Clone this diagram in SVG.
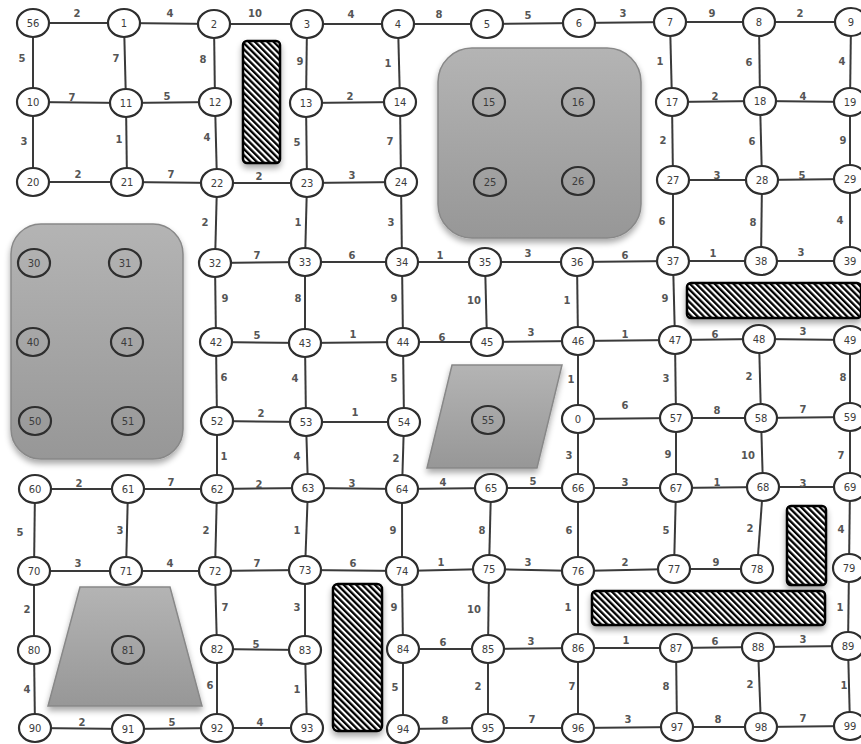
<svg xmlns="http://www.w3.org/2000/svg" width="861" height="744" viewBox="0 0 861 744">
<defs>
<pattern id="hatch" width="4.4" height="4.4" patternUnits="userSpaceOnUse" patternTransform="rotate(-45)">
<rect width="4.4" height="4.4" fill="#fff"/>
<rect width="2.3" height="4.4" fill="#000"/>
</pattern>
<linearGradient id="gray" x1="0" y1="0" x2="0" y2="1">
<stop offset="0" stop-color="#b4b4b4"/>
<stop offset="1" stop-color="#979797"/>
</linearGradient>
<filter id="shadow" x="-20%" y="-20%" width="140%" height="150%">
<feGaussianBlur in="SourceAlpha" stdDeviation="3"/>
<feOffset dx="0" dy="4" result="b"/>
<feComponentTransfer><feFuncA type="linear" slope="0.35"/></feComponentTransfer>
<feMerge><feMergeNode/><feMergeNode in="SourceGraphic"/></feMerge>
</filter>
</defs>
<style>
.e line{stroke:#3a3a3a;stroke-width:2}
.n ellipse{fill:#fff;stroke:#2e2e2e;stroke-width:2.2}
.g ellipse{fill:none;stroke:#2e2e2e;stroke-width:2.2}
text{font-family:"DejaVu Sans","Liberation Sans",sans-serif;font-size:10px;fill:#3c3c3c;text-anchor:middle}
.w text{font-size:10px;font-weight:bold;fill:#555}
.area{fill:url(#gray);stroke:#888;stroke-width:1.5;filter:url(#shadow)}
.hatch{fill:url(#hatch);stroke:#000;stroke-width:2.5;filter:url(#shadow)}
</style>
<rect width="861" height="744" fill="#fff"/>
<g id="obstacles">
<rect class="area" x="438" y="48" width="203" height="190" rx="34"/>
<rect class="area" x="11" y="224" width="172" height="235" rx="30"/>
<polygon class="area" points="452,365 562,365 537,468 427,468"/>
<polygon class="area" points="80,587 170,587 202,706 48,706"/>
<rect class="hatch" x="243" y="41" width="37" height="122" rx="4"/>
<rect class="hatch" x="687" y="283" width="174" height="35" rx="4"/>
<rect class="hatch" x="787" y="506" width="39" height="79" rx="4"/>
<rect class="hatch" x="592" y="591" width="233" height="34" rx="4"/>
<rect class="hatch" x="333" y="584" width="49" height="147" rx="5"/>
</g>
<g id="connectors" class="e">
<line x1="33" y1="23" x2="124" y2="23"/><line x1="124" y1="23" x2="214" y2="24"/><line x1="214" y1="24" x2="307" y2="24"/><line x1="307" y1="24" x2="398" y2="24"/><line x1="398" y1="24" x2="487" y2="24"/><line x1="487" y1="24" x2="579" y2="23"/><line x1="579" y1="23" x2="670" y2="22"/><line x1="670" y1="22" x2="759" y2="22"/><line x1="759" y1="22" x2="851" y2="22"/>
<line x1="33" y1="23" x2="33" y2="102"/><line x1="124" y1="23" x2="126" y2="103"/><line x1="214" y1="24" x2="215" y2="102"/><line x1="307" y1="24" x2="306" y2="103"/><line x1="398" y1="24" x2="400" y2="102"/><line x1="670" y1="22" x2="672" y2="102"/><line x1="759" y1="22" x2="760" y2="101"/><line x1="851" y1="22" x2="850" y2="102"/>
<line x1="33" y1="102" x2="126" y2="103"/><line x1="126" y1="103" x2="215" y2="102"/><line x1="306" y1="103" x2="400" y2="102"/><line x1="672" y1="102" x2="760" y2="101"/><line x1="760" y1="101" x2="850" y2="102"/>
<line x1="33" y1="102" x2="33" y2="182"/><line x1="126" y1="103" x2="127" y2="182"/><line x1="215" y1="102" x2="217" y2="183"/><line x1="306" y1="103" x2="307" y2="183"/><line x1="400" y1="102" x2="401" y2="182"/><line x1="672" y1="102" x2="673" y2="180"/><line x1="760" y1="101" x2="762" y2="180"/><line x1="850" y1="102" x2="850" y2="179"/>
<line x1="33" y1="182" x2="127" y2="182"/><line x1="127" y1="182" x2="217" y2="183"/><line x1="217" y1="183" x2="307" y2="183"/><line x1="307" y1="183" x2="401" y2="182"/><line x1="673" y1="180" x2="762" y2="180"/><line x1="762" y1="180" x2="850" y2="179"/>
<line x1="217" y1="183" x2="215" y2="263"/><line x1="307" y1="183" x2="305" y2="262"/><line x1="401" y1="182" x2="402" y2="262"/><line x1="673" y1="180" x2="673" y2="261"/><line x1="762" y1="180" x2="761" y2="261"/><line x1="850" y1="179" x2="850" y2="261"/>
<line x1="215" y1="263" x2="305" y2="262"/><line x1="305" y1="262" x2="402" y2="262"/><line x1="402" y1="262" x2="485" y2="262"/><line x1="485" y1="262" x2="577" y2="262"/><line x1="577" y1="262" x2="673" y2="261"/><line x1="673" y1="261" x2="761" y2="261"/><line x1="761" y1="261" x2="850" y2="261"/>
<line x1="215" y1="263" x2="216" y2="342"/><line x1="305" y1="262" x2="305" y2="343"/><line x1="402" y1="262" x2="403" y2="342"/><line x1="485" y1="262" x2="487" y2="342"/><line x1="577" y1="262" x2="578" y2="341"/><line x1="673" y1="261" x2="675" y2="340"/>
<line x1="216" y1="342" x2="305" y2="343"/><line x1="305" y1="343" x2="403" y2="342"/><line x1="403" y1="342" x2="487" y2="342"/><line x1="487" y1="342" x2="578" y2="341"/><line x1="578" y1="341" x2="675" y2="340"/><line x1="675" y1="340" x2="759" y2="339"/><line x1="759" y1="339" x2="850" y2="340"/>
<line x1="216" y1="342" x2="217" y2="421"/><line x1="305" y1="343" x2="306" y2="422"/><line x1="403" y1="342" x2="404" y2="422"/><line x1="578" y1="341" x2="578" y2="419"/><line x1="675" y1="340" x2="676" y2="418"/><line x1="759" y1="339" x2="761" y2="418"/><line x1="850" y1="340" x2="850" y2="417"/>
<line x1="217" y1="421" x2="306" y2="422"/><line x1="306" y1="422" x2="404" y2="422"/><line x1="578" y1="419" x2="676" y2="418"/><line x1="676" y1="418" x2="761" y2="418"/><line x1="761" y1="418" x2="850" y2="417"/>
<line x1="217" y1="421" x2="217" y2="489"/><line x1="306" y1="422" x2="308" y2="488"/><line x1="404" y1="422" x2="402" y2="489"/><line x1="578" y1="419" x2="578" y2="488"/><line x1="676" y1="418" x2="676" y2="488"/><line x1="761" y1="418" x2="763" y2="487"/><line x1="850" y1="417" x2="850" y2="487"/>
<line x1="35" y1="489" x2="128" y2="489"/><line x1="128" y1="489" x2="217" y2="489"/><line x1="217" y1="489" x2="308" y2="488"/><line x1="308" y1="488" x2="402" y2="489"/><line x1="402" y1="489" x2="491" y2="488"/><line x1="491" y1="488" x2="578" y2="488"/><line x1="578" y1="488" x2="676" y2="488"/><line x1="676" y1="488" x2="763" y2="487"/><line x1="763" y1="487" x2="850" y2="487"/>
<line x1="35" y1="489" x2="34" y2="571"/><line x1="128" y1="489" x2="126" y2="571"/><line x1="217" y1="489" x2="215" y2="571"/><line x1="308" y1="488" x2="305" y2="570"/><line x1="402" y1="489" x2="402" y2="571"/><line x1="491" y1="488" x2="489" y2="569"/><line x1="578" y1="488" x2="578" y2="571"/><line x1="676" y1="488" x2="674" y2="569"/><line x1="763" y1="487" x2="757" y2="569"/><line x1="850" y1="487" x2="849" y2="568"/>
<line x1="34" y1="571" x2="126" y2="571"/><line x1="126" y1="571" x2="215" y2="571"/><line x1="215" y1="571" x2="305" y2="570"/><line x1="305" y1="570" x2="402" y2="571"/><line x1="402" y1="571" x2="489" y2="569"/><line x1="489" y1="569" x2="578" y2="571"/><line x1="578" y1="571" x2="674" y2="569"/><line x1="674" y1="569" x2="757" y2="569"/>
<line x1="34" y1="571" x2="34" y2="650"/><line x1="215" y1="571" x2="217" y2="649"/><line x1="305" y1="570" x2="305" y2="650"/><line x1="402" y1="571" x2="403" y2="649"/><line x1="489" y1="569" x2="488" y2="649"/><line x1="578" y1="571" x2="578" y2="648"/><line x1="849" y1="568" x2="848" y2="646"/>
<line x1="217" y1="649" x2="305" y2="650"/><line x1="403" y1="649" x2="488" y2="649"/><line x1="488" y1="649" x2="578" y2="648"/><line x1="578" y1="648" x2="676" y2="648"/><line x1="676" y1="648" x2="758" y2="647"/><line x1="758" y1="647" x2="848" y2="646"/>
<line x1="34" y1="650" x2="35" y2="728"/><line x1="217" y1="649" x2="217" y2="728"/><line x1="305" y1="650" x2="307" y2="728"/><line x1="403" y1="649" x2="403" y2="729"/><line x1="488" y1="649" x2="488" y2="728"/><line x1="578" y1="648" x2="578" y2="728"/><line x1="676" y1="648" x2="677" y2="727"/><line x1="758" y1="647" x2="761" y2="727"/><line x1="848" y1="646" x2="850" y2="726"/>
<line x1="35" y1="728" x2="128" y2="729"/><line x1="128" y1="729" x2="217" y2="728"/><line x1="217" y1="728" x2="307" y2="728"/><line x1="403" y1="729" x2="488" y2="728"/><line x1="488" y1="728" x2="578" y2="728"/><line x1="578" y1="728" x2="677" y2="727"/><line x1="677" y1="727" x2="761" y2="727"/><line x1="761" y1="727" x2="850" y2="726"/>
</g>
<g id="weights" class="w">
<text x="77" y="13" dy=".35em">2</text><text x="170" y="13" dy=".35em">4</text><text x="255" y="13" dy=".35em">10</text><text x="351" y="14" dy=".35em">4</text><text x="439" y="14" dy=".35em">8</text><text x="528" y="15" dy=".35em">5</text><text x="623" y="13" dy=".35em">3</text><text x="712" y="13" dy=".35em">9</text><text x="800" y="13" dy=".35em">2</text>
<text x="22" y="58" dy=".35em">5</text><text x="116" y="58" dy=".35em">7</text><text x="203" y="59" dy=".35em">8</text><text x="300" y="61" dy=".35em">9</text><text x="388" y="63" dy=".35em">1</text><text x="660" y="61" dy=".35em">1</text><text x="749" y="62" dy=".35em">6</text><text x="842" y="61" dy=".35em">4</text>
<text x="72" y="97" dy=".35em">7</text><text x="167" y="96" dy=".35em">5</text><text x="350" y="96" dy=".35em">2</text><text x="715" y="96" dy=".35em">2</text><text x="803" y="96" dy=".35em">4</text>
<text x="24" y="141" dy=".35em">3</text><text x="119" y="139" dy=".35em">1</text><text x="207" y="137" dy=".35em">4</text><text x="297" y="142" dy=".35em">5</text><text x="390" y="141" dy=".35em">7</text><text x="663" y="140" dy=".35em">2</text><text x="752" y="141" dy=".35em">6</text><text x="843" y="140" dy=".35em">9</text>
<text x="78" y="174" dy=".35em">2</text><text x="171" y="174" dy=".35em">7</text><text x="259" y="176" dy=".35em">2</text><text x="352" y="175" dy=".35em">3</text><text x="717" y="175" dy=".35em">3</text><text x="802" y="175" dy=".35em">5</text>
<text x="205" y="222" dy=".35em">2</text><text x="298" y="222" dy=".35em">1</text><text x="391" y="222" dy=".35em">3</text><text x="662" y="221" dy=".35em">6</text><text x="753" y="222" dy=".35em">8</text><text x="840" y="220" dy=".35em">4</text>
<text x="257" y="255" dy=".35em">7</text><text x="352" y="255" dy=".35em">6</text><text x="440" y="255" dy=".35em">1</text><text x="528" y="253" dy=".35em">3</text><text x="625" y="255" dy=".35em">6</text><text x="713" y="253" dy=".35em">1</text><text x="801" y="252" dy=".35em">3</text>
<text x="225" y="298" dy=".35em">9</text><text x="298" y="298" dy=".35em">8</text><text x="394" y="298" dy=".35em">9</text><text x="474" y="300" dy=".35em">10</text><text x="567" y="300" dy=".35em">1</text><text x="665" y="298" dy=".35em">9</text>
<text x="257" y="335" dy=".35em">5</text><text x="353" y="334" dy=".35em">1</text><text x="442" y="337" dy=".35em">6</text><text x="531" y="332" dy=".35em">3</text><text x="625" y="334" dy=".35em">1</text><text x="715" y="334" dy=".35em">6</text><text x="803" y="331" dy=".35em">3</text>
<text x="224" y="377" dy=".35em">6</text><text x="295" y="378" dy=".35em">4</text><text x="394" y="378" dy=".35em">5</text><text x="571" y="379" dy=".35em">1</text><text x="666" y="378" dy=".35em">3</text><text x="749" y="376" dy=".35em">2</text><text x="843" y="377" dy=".35em">8</text>
<text x="261" y="413" dy=".35em">2</text><text x="355" y="412" dy=".35em">1</text><text x="625" y="405" dy=".35em">6</text><text x="717" y="410" dy=".35em">8</text><text x="803" y="409" dy=".35em">7</text>
<text x="224" y="456" dy=".35em">1</text><text x="297" y="456" dy=".35em">4</text><text x="396" y="458" dy=".35em">2</text><text x="569" y="455" dy=".35em">3</text><text x="668" y="454" dy=".35em">9</text><text x="748" y="455" dy=".35em">10</text><text x="841" y="455" dy=".35em">7</text>
<text x="79" y="483" dy=".35em">2</text><text x="171" y="482" dy=".35em">7</text><text x="259" y="484" dy=".35em">2</text><text x="352" y="483" dy=".35em">3</text><text x="443" y="482" dy=".35em">4</text><text x="533" y="481" dy=".35em">5</text><text x="625" y="482" dy=".35em">3</text><text x="717" y="482" dy=".35em">1</text><text x="803" y="483" dy=".35em">3</text>
<text x="20" y="532" dy=".35em">5</text><text x="120" y="530" dy=".35em">3</text><text x="206" y="530" dy=".35em">2</text><text x="297" y="530" dy=".35em">1</text><text x="393" y="530" dy=".35em">9</text><text x="482" y="530" dy=".35em">8</text><text x="569" y="530" dy=".35em">6</text><text x="666" y="530" dy=".35em">5</text><text x="750" y="528" dy=".35em">2</text><text x="841" y="529" dy=".35em">4</text>
<text x="78" y="563" dy=".35em">3</text><text x="170" y="563" dy=".35em">4</text><text x="257" y="563" dy=".35em">7</text><text x="353" y="563" dy=".35em">6</text><text x="441" y="562" dy=".35em">1</text><text x="528" y="562" dy=".35em">3</text><text x="625" y="562" dy=".35em">2</text><text x="716" y="562" dy=".35em">9</text>
<text x="27" y="609" dy=".35em">2</text><text x="225" y="607" dy=".35em">7</text><text x="297" y="607" dy=".35em">3</text><text x="394" y="607" dy=".35em">9</text><text x="474" y="609" dy=".35em">10</text><text x="568" y="607" dy=".35em">1</text><text x="840" y="607" dy=".35em">1</text>
<text x="256" y="644" dy=".35em">5</text><text x="443" y="642" dy=".35em">6</text><text x="531" y="641" dy=".35em">3</text><text x="626" y="640" dy=".35em">1</text><text x="715" y="641" dy=".35em">6</text><text x="803" y="639" dy=".35em">3</text>
<text x="27" y="689" dy=".35em">4</text><text x="210" y="685" dy=".35em">6</text><text x="297" y="689" dy=".35em">1</text><text x="395" y="687" dy=".35em">5</text><text x="478" y="686" dy=".35em">2</text><text x="572" y="686" dy=".35em">7</text><text x="666" y="686" dy=".35em">8</text><text x="750" y="684" dy=".35em">2</text><text x="844" y="685" dy=".35em">1</text>
<text x="82" y="722" dy=".35em">2</text><text x="172" y="722" dy=".35em">5</text><text x="260" y="722" dy=".35em">4</text><text x="445" y="720" dy=".35em">8</text><text x="532" y="719" dy=".35em">7</text><text x="628" y="719" dy=".35em">3</text><text x="718" y="719" dy=".35em">8</text><text x="803" y="718" dy=".35em">7</text>
</g>
<g class="n">
<g id="n56"><ellipse cx="33" cy="23" rx="16" ry="14"/><text x="33" y="23" dy=".35em">56</text></g>
<g id="n1"><ellipse cx="124" cy="23" rx="16" ry="14"/><text x="124" y="23" dy=".35em">1</text></g>
<g id="n2"><ellipse cx="214" cy="24" rx="16" ry="14"/><text x="214" y="24" dy=".35em">2</text></g>
<g id="n3"><ellipse cx="307" cy="24" rx="16" ry="14"/><text x="307" y="24" dy=".35em">3</text></g>
<g id="n4"><ellipse cx="398" cy="24" rx="16" ry="14"/><text x="398" y="24" dy=".35em">4</text></g>
<g id="n5"><ellipse cx="487" cy="24" rx="16" ry="14"/><text x="487" y="24" dy=".35em">5</text></g>
<g id="n6"><ellipse cx="579" cy="23" rx="16" ry="14"/><text x="579" y="23" dy=".35em">6</text></g>
<g id="n7"><ellipse cx="670" cy="22" rx="16" ry="14"/><text x="670" y="22" dy=".35em">7</text></g>
<g id="n8"><ellipse cx="759" cy="22" rx="16" ry="14"/><text x="759" y="22" dy=".35em">8</text></g>
<g id="n9"><ellipse cx="851" cy="22" rx="16" ry="14"/><text x="851" y="22" dy=".35em">9</text></g>
<g id="n10"><ellipse cx="33" cy="102" rx="16" ry="14"/><text x="33" y="102" dy=".35em">10</text></g>
<g id="n11"><ellipse cx="126" cy="103" rx="16" ry="14"/><text x="126" y="103" dy=".35em">11</text></g>
<g id="n12"><ellipse cx="215" cy="102" rx="16" ry="14"/><text x="215" y="102" dy=".35em">12</text></g>
<g id="n13"><ellipse cx="306" cy="103" rx="16" ry="14"/><text x="306" y="103" dy=".35em">13</text></g>
<g id="n14"><ellipse cx="400" cy="102" rx="16" ry="14"/><text x="400" y="102" dy=".35em">14</text></g>
<g id="n17"><ellipse cx="672" cy="102" rx="16" ry="14"/><text x="672" y="102" dy=".35em">17</text></g>
<g id="n18"><ellipse cx="760" cy="101" rx="16" ry="14"/><text x="760" y="101" dy=".35em">18</text></g>
<g id="n19"><ellipse cx="850" cy="102" rx="16" ry="14"/><text x="850" y="102" dy=".35em">19</text></g>
<g id="n20"><ellipse cx="33" cy="182" rx="16" ry="14"/><text x="33" y="182" dy=".35em">20</text></g>
<g id="n21"><ellipse cx="127" cy="182" rx="16" ry="14"/><text x="127" y="182" dy=".35em">21</text></g>
<g id="n22"><ellipse cx="217" cy="183" rx="16" ry="14"/><text x="217" y="183" dy=".35em">22</text></g>
<g id="n23"><ellipse cx="307" cy="183" rx="16" ry="14"/><text x="307" y="183" dy=".35em">23</text></g>
<g id="n24"><ellipse cx="401" cy="182" rx="16" ry="14"/><text x="401" y="182" dy=".35em">24</text></g>
<g id="n27"><ellipse cx="673" cy="180" rx="16" ry="14"/><text x="673" y="180" dy=".35em">27</text></g>
<g id="n28"><ellipse cx="762" cy="180" rx="16" ry="14"/><text x="762" y="180" dy=".35em">28</text></g>
<g id="n29"><ellipse cx="850" cy="179" rx="16" ry="14"/><text x="850" y="179" dy=".35em">29</text></g>
<g id="n32"><ellipse cx="215" cy="263" rx="16" ry="14"/><text x="215" y="263" dy=".35em">32</text></g>
<g id="n33"><ellipse cx="305" cy="262" rx="16" ry="14"/><text x="305" y="262" dy=".35em">33</text></g>
<g id="n34"><ellipse cx="402" cy="262" rx="16" ry="14"/><text x="402" y="262" dy=".35em">34</text></g>
<g id="n35"><ellipse cx="485" cy="262" rx="16" ry="14"/><text x="485" y="262" dy=".35em">35</text></g>
<g id="n36"><ellipse cx="577" cy="262" rx="16" ry="14"/><text x="577" y="262" dy=".35em">36</text></g>
<g id="n37"><ellipse cx="673" cy="261" rx="16" ry="14"/><text x="673" y="261" dy=".35em">37</text></g>
<g id="n38"><ellipse cx="761" cy="261" rx="16" ry="14"/><text x="761" y="261" dy=".35em">38</text></g>
<g id="n39"><ellipse cx="850" cy="261" rx="16" ry="14"/><text x="850" y="261" dy=".35em">39</text></g>
<g id="n42"><ellipse cx="216" cy="342" rx="16" ry="14"/><text x="216" y="342" dy=".35em">42</text></g>
<g id="n43"><ellipse cx="305" cy="343" rx="16" ry="14"/><text x="305" y="343" dy=".35em">43</text></g>
<g id="n44"><ellipse cx="403" cy="342" rx="16" ry="14"/><text x="403" y="342" dy=".35em">44</text></g>
<g id="n45"><ellipse cx="487" cy="342" rx="16" ry="14"/><text x="487" y="342" dy=".35em">45</text></g>
<g id="n46"><ellipse cx="578" cy="341" rx="16" ry="14"/><text x="578" y="341" dy=".35em">46</text></g>
<g id="n47"><ellipse cx="675" cy="340" rx="16" ry="14"/><text x="675" y="340" dy=".35em">47</text></g>
<g id="n48"><ellipse cx="759" cy="339" rx="16" ry="14"/><text x="759" y="339" dy=".35em">48</text></g>
<g id="n49"><ellipse cx="850" cy="340" rx="16" ry="14"/><text x="850" y="340" dy=".35em">49</text></g>
<g id="n52"><ellipse cx="217" cy="421" rx="16" ry="14"/><text x="217" y="421" dy=".35em">52</text></g>
<g id="n53"><ellipse cx="306" cy="422" rx="16" ry="14"/><text x="306" y="422" dy=".35em">53</text></g>
<g id="n54"><ellipse cx="404" cy="422" rx="16" ry="14"/><text x="404" y="422" dy=".35em">54</text></g>
<g id="n0"><ellipse cx="578" cy="419" rx="16" ry="14"/><text x="578" y="419" dy=".35em">0</text></g>
<g id="n57"><ellipse cx="676" cy="418" rx="16" ry="14"/><text x="676" y="418" dy=".35em">57</text></g>
<g id="n58"><ellipse cx="761" cy="418" rx="16" ry="14"/><text x="761" y="418" dy=".35em">58</text></g>
<g id="n59"><ellipse cx="850" cy="417" rx="16" ry="14"/><text x="850" y="417" dy=".35em">59</text></g>
<g id="n60"><ellipse cx="35" cy="489" rx="16" ry="14"/><text x="35" y="489" dy=".35em">60</text></g>
<g id="n61"><ellipse cx="128" cy="489" rx="16" ry="14"/><text x="128" y="489" dy=".35em">61</text></g>
<g id="n62"><ellipse cx="217" cy="489" rx="16" ry="14"/><text x="217" y="489" dy=".35em">62</text></g>
<g id="n63"><ellipse cx="308" cy="488" rx="16" ry="14"/><text x="308" y="488" dy=".35em">63</text></g>
<g id="n64"><ellipse cx="402" cy="489" rx="16" ry="14"/><text x="402" y="489" dy=".35em">64</text></g>
<g id="n65"><ellipse cx="491" cy="488" rx="16" ry="14"/><text x="491" y="488" dy=".35em">65</text></g>
<g id="n66"><ellipse cx="578" cy="488" rx="16" ry="14"/><text x="578" y="488" dy=".35em">66</text></g>
<g id="n67"><ellipse cx="676" cy="488" rx="16" ry="14"/><text x="676" y="488" dy=".35em">67</text></g>
<g id="n68"><ellipse cx="763" cy="487" rx="16" ry="14"/><text x="763" y="487" dy=".35em">68</text></g>
<g id="n69"><ellipse cx="850" cy="487" rx="16" ry="14"/><text x="850" y="487" dy=".35em">69</text></g>
<g id="n70"><ellipse cx="34" cy="571" rx="16" ry="14"/><text x="34" y="571" dy=".35em">70</text></g>
<g id="n71"><ellipse cx="126" cy="571" rx="16" ry="14"/><text x="126" y="571" dy=".35em">71</text></g>
<g id="n72"><ellipse cx="215" cy="571" rx="16" ry="14"/><text x="215" y="571" dy=".35em">72</text></g>
<g id="n73"><ellipse cx="305" cy="570" rx="16" ry="14"/><text x="305" y="570" dy=".35em">73</text></g>
<g id="n74"><ellipse cx="402" cy="571" rx="16" ry="14"/><text x="402" y="571" dy=".35em">74</text></g>
<g id="n75"><ellipse cx="489" cy="569" rx="16" ry="14"/><text x="489" y="569" dy=".35em">75</text></g>
<g id="n76"><ellipse cx="578" cy="571" rx="16" ry="14"/><text x="578" y="571" dy=".35em">76</text></g>
<g id="n77"><ellipse cx="674" cy="569" rx="16" ry="14"/><text x="674" y="569" dy=".35em">77</text></g>
<g id="n78"><ellipse cx="757" cy="569" rx="16" ry="14"/><text x="757" y="569" dy=".35em">78</text></g>
<g id="n79"><ellipse cx="849" cy="568" rx="16" ry="14"/><text x="849" y="568" dy=".35em">79</text></g>
<g id="n80"><ellipse cx="34" cy="650" rx="16" ry="14"/><text x="34" y="650" dy=".35em">80</text></g>
<g id="n82"><ellipse cx="217" cy="649" rx="16" ry="14"/><text x="217" y="649" dy=".35em">82</text></g>
<g id="n83"><ellipse cx="305" cy="650" rx="16" ry="14"/><text x="305" y="650" dy=".35em">83</text></g>
<g id="n84"><ellipse cx="403" cy="649" rx="16" ry="14"/><text x="403" y="649" dy=".35em">84</text></g>
<g id="n85"><ellipse cx="488" cy="649" rx="16" ry="14"/><text x="488" y="649" dy=".35em">85</text></g>
<g id="n86"><ellipse cx="578" cy="648" rx="16" ry="14"/><text x="578" y="648" dy=".35em">86</text></g>
<g id="n87"><ellipse cx="676" cy="648" rx="16" ry="14"/><text x="676" y="648" dy=".35em">87</text></g>
<g id="n88"><ellipse cx="758" cy="647" rx="16" ry="14"/><text x="758" y="647" dy=".35em">88</text></g>
<g id="n89"><ellipse cx="848" cy="646" rx="16" ry="14"/><text x="848" y="646" dy=".35em">89</text></g>
<g id="n90"><ellipse cx="35" cy="728" rx="16" ry="14"/><text x="35" y="728" dy=".35em">90</text></g>
<g id="n91"><ellipse cx="128" cy="729" rx="16" ry="14"/><text x="128" y="729" dy=".35em">91</text></g>
<g id="n92"><ellipse cx="217" cy="728" rx="16" ry="14"/><text x="217" y="728" dy=".35em">92</text></g>
<g id="n93"><ellipse cx="307" cy="728" rx="16" ry="14"/><text x="307" y="728" dy=".35em">93</text></g>
<g id="n94"><ellipse cx="403" cy="729" rx="16" ry="14"/><text x="403" y="729" dy=".35em">94</text></g>
<g id="n95"><ellipse cx="488" cy="728" rx="16" ry="14"/><text x="488" y="728" dy=".35em">95</text></g>
<g id="n96"><ellipse cx="578" cy="728" rx="16" ry="14"/><text x="578" y="728" dy=".35em">96</text></g>
<g id="n97"><ellipse cx="677" cy="727" rx="16" ry="14"/><text x="677" y="727" dy=".35em">97</text></g>
<g id="n98"><ellipse cx="761" cy="727" rx="16" ry="14"/><text x="761" y="727" dy=".35em">98</text></g>
<g id="n99"><ellipse cx="850" cy="726" rx="16" ry="14"/><text x="850" y="726" dy=".35em">99</text></g>
</g>
<g class="g">
<g id="n15"><ellipse cx="489" cy="102" rx="16" ry="14"/><text x="489" y="102" dy=".35em">15</text></g>
<g id="n16"><ellipse cx="578" cy="102" rx="16" ry="14"/><text x="578" y="102" dy=".35em">16</text></g>
<g id="n25"><ellipse cx="490" cy="182" rx="16" ry="14"/><text x="490" y="182" dy=".35em">25</text></g>
<g id="n26"><ellipse cx="578" cy="181" rx="16" ry="14"/><text x="578" y="181" dy=".35em">26</text></g>
<g id="n30"><ellipse cx="34" cy="263" rx="16" ry="14"/><text x="34" y="263" dy=".35em">30</text></g>
<g id="n31"><ellipse cx="125" cy="263" rx="16" ry="14"/><text x="125" y="263" dy=".35em">31</text></g>
<g id="n40"><ellipse cx="33" cy="342" rx="16" ry="14"/><text x="33" y="342" dy=".35em">40</text></g>
<g id="n41"><ellipse cx="127" cy="342" rx="16" ry="14"/><text x="127" y="342" dy=".35em">41</text></g>
<g id="n50"><ellipse cx="35" cy="421" rx="16" ry="14"/><text x="35" y="421" dy=".35em">50</text></g>
<g id="n51"><ellipse cx="128" cy="421" rx="16" ry="14"/><text x="128" y="421" dy=".35em">51</text></g>
<g id="n55"><ellipse cx="488" cy="420" rx="16" ry="14"/><text x="488" y="420" dy=".35em">55</text></g>
<g id="n81"><ellipse cx="128" cy="650" rx="16" ry="14"/><text x="128" y="650" dy=".35em">81</text></g>
</g>
</svg>
